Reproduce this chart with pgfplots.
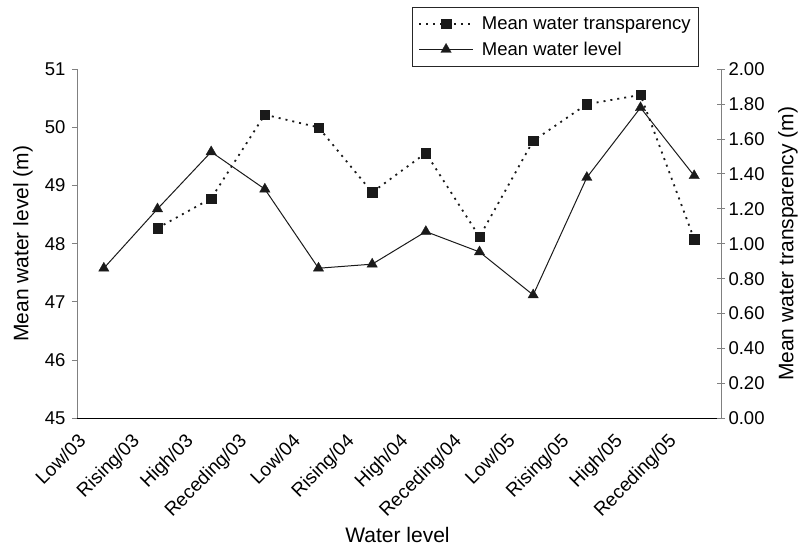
\documentclass[border=0pt]{standalone}
\usepackage{fontspec}
\setmainfont{Liberation Sans}
\usepackage{pgfplots}
\pgfplotsset{compat=1.18}

\definecolor{axgray}{RGB}{128,128,128}
\definecolor{ink}{RGB}{26,26,26}

\pgfplotstableread{
x     level
0.5   47.58
1.5   48.60
2.5   49.58
3.5   48.94
4.5   47.58
5.5   47.65
6.5   48.21
7.5   47.86
8.5   47.12
9.5   49.14
10.5  50.34
11.5  49.17
}\leveldata

\pgfplotstableread{
x     transp
1.5   1.09
2.5   1.26
3.5   1.74
4.5   1.667
5.5   1.295
6.5   1.52
7.5   1.04
8.5   1.59
9.5   1.80
10.5  1.853
11.5  1.027
}\transpdata

\pgfplotsset{
  common/.style={
    scale only axis,
    width=644pt, height=349pt,
    xmin=0, xmax=12,
    /pgf/number format/assume math mode=true,
    tick label style={font=\fontsize{18.5}{22}\selectfont},
    label style={font=\fontsize{21}{25}\selectfont},
    axis line style={-, line width=1pt},
    major tick length=5pt,
    tick style={axgray, line width=1pt},
  },
}

\begin{document}
\begin{tikzpicture}
\path[use as bounding box] (-77pt,-129.7pt) rectangle (722pt,418.3pt);

% left axis: mean water level
\begin{axis}[
  common,
  ymin=45, ymax=51,
  ytick={45,46,...,51},
  axis x line*=bottom,
  axis y line*=left,
  x axis line style={black},
  y axis line style={axgray},
  ytick align=outside,
  xtick align=outside,
  xtick={0,1,...,11},
  xticklabels={Low/03,Rising/03,High/03,Receding/03,Low/04,Rising/04,High/04,Receding/04,Low/05,Rising/05,High/05,Receding/05},
  xtick style={draw=none},
  xticklabel style={rotate=45, anchor=north east, inner sep=0pt, font=\fontsize{19}{22}\selectfont},
  xticklabel shift=9pt,
  extra x ticks={0,1,...,12},
  extra x tick labels={},
  extra x tick style={tick style={draw=axgray, line width=1pt}, major tick length=7pt},
  yticklabel shift=3pt,
  xlabel={Water level},
  xlabel style={at={(axis description cs:0.4977,-0.3564)}, anchor=base},
  ylabel={Mean water level (m)},
  ylabel style={at={(axis description cs:-0.0839,0.5)}, anchor=center, rotate=0},
]
\addplot[ink, line width=1pt, mark=triangle*, mark size=6pt,
  mark options={fill=ink, draw=ink, line width=0.3pt}]
  table[x=x, y=level] {\leveldata};
\end{axis}

% right axis: mean water transparency
\begin{axis}[
  common,
  ymin=0, ymax=2,
  ytick={0,0.2,0.4,0.6,0.8,1.0,1.2,1.4,1.6,1.8,2.0},
  axis x line=none,
  axis y line*=right,
  y axis line style={axgray},
  ytick align=center,
  major tick length=8pt,
  yticklabel style={/pgf/number format/.cd, fixed, fixed zerofill, precision=2},
  ylabel={Mean water transparency (m)},
  ylabel style={at={(axis description cs:1.104,0.5)}, anchor=center, rotate=0},
  legend style={
    at={(axis description cs:0.966,1.179)}, anchor=north east,
    draw=black!85, line width=0.8pt,
    font=\fontsize{18.5}{22}\selectfont,
    inner xsep=6pt, inner ysep=7.5pt, row sep=7pt, column sep=6pt,
    cells={anchor=west},
  },
  legend image code/.code={
    \draw[mark repeat=2, mark phase=2, #1]
      plot coordinates {(0pt,0pt) (27pt,0pt) (54pt,0pt)};
  },
]
\addplot[ink, line width=1.8pt, dash pattern=on 2pt off 5pt,
  mark=square*, mark size=4.7pt,
  mark options={solid, fill=ink, draw=ink, line width=0.3pt}]
  table[x=x, y=transp] {\transpdata};
\addlegendentry{Mean water transparency}
\addlegendimage{ink, line width=1pt, mark=triangle*, mark size=6pt,
  mark options={fill=ink, draw=ink, line width=0.3pt}}
\addlegendentry{Mean water level}
\end{axis}
\end{tikzpicture}
\end{document}
